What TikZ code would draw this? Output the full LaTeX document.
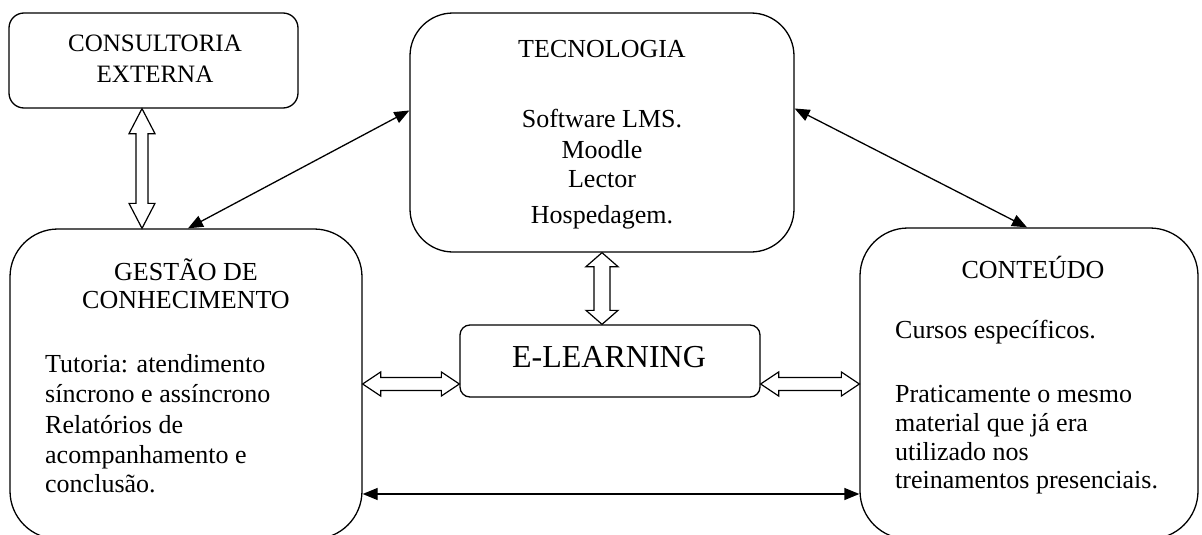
\documentclass[tikz,border=0pt]{standalone}
\usepackage{fontspec}
\setmainfont{Liberation Serif}
\usetikzlibrary{calc,arrows.meta}

% open double-headed block arrow between two points:
% #1,#2 end points, #3 head length, #4 half head width, #5 half shaft width
\newcommand\hollowlink[5]{%
  \draw[hollow] (#1)
    -- ($(#1)!#3!(#2)!#4!90:(#2)$) -- ($(#1)!#3!(#2)!#5!90:(#2)$)
    -- ($(#2)!#3!(#1)!#5!-90:(#1)$) -- ($(#2)!#3!(#1)!#4!-90:(#1)$)
    -- (#2)
    -- ($(#2)!#3!(#1)!#4!90:(#1)$) -- ($(#2)!#3!(#1)!#5!90:(#1)$)
    -- ($(#1)!#3!(#2)!#5!-90:(#2)$) -- ($(#1)!#3!(#2)!#4!-90:(#2)$)
    -- cycle;}

\tikzset{
  box/.style={draw, line width=1.3pt, fill=white, inner sep=0pt},
  txt/.style={font=\fontsize{26}{30}\selectfont, inner sep=0pt, anchor=base},
  ltxt/.style={txt, anchor=base west},
  hollow/.style={draw, line width=1.2pt, fill=white, line join=miter},
  link/.style={line width=1.3pt,
    {Triangle[length=15pt,width=12pt]}-{Triangle[length=15pt,width=12pt]}},
}

\begin{document}
\begin{tikzpicture}[x=1pt,y=-1pt]
\useasboundingbox (0,0) rectangle (1202,535);
\clip (0,0) rectangle (1202,535);

% boxes
\node[box, rounded corners=15pt, minimum width=289pt, minimum height=95pt]  (cons)   at (153.5,60.5) {};
\node[box, rounded corners=43pt, minimum width=384pt, minimum height=239pt] (tech)   at (602,132.5) {};
\node[box, rounded corners=48pt, minimum width=352pt, minimum height=310pt] (gest)   at (186,384) {};
\node[box, rounded corners=48pt, minimum width=338pt, minimum height=311pt] (cont)   at (1029,383.5) {};
\node[box, rounded corners=10pt, minimum width=300pt, minimum height=72pt]  (elearn) at (610,361) {};

% texts
\node[txt, font=\fontsize{25}{30}\selectfont] (consA) at (155,52) {CONSULTORIA};
\node[txt, font=\fontsize{25}{30}\selectfont] (consB) at (155,82) {EXTERNA};

\node[txt] (techA) at (602,58)  {TECNOLOGIA};
\node[txt] (techB) at (602,127) {Software LMS.};
\node[txt] (techC) at (602,158) {Moodle};
\node[txt] (techD) at (602,187) {Lector};
\node[txt] (techE) at (602,223) {Hospedagem.};

\node[txt] (gestA) at (186,280) {GESTÃO DE};
\node[txt] (gestB) at (186,308) {CONHECIMENTO};
\foreach \y/\t [count=\i] in {372/{Tutoria: atendimento},
    402/{síncrono e assíncrono}, 433/{Relatórios de},
    463/{acompanhamento e}, 492/{conclusão.}}
  \node[ltxt] (gline\i) at (45,\y) {\t};

\node[txt] (contA) at (1033,278) {CONTEÚDO};
\foreach \y/\t [count=\i] in {338/{Cursos específicos.},
    402/{Praticamente o mesmo}, 431/{material que já era},
    460/{utilizado nos}, 488/{treinamentos presenciais.}}
  \node[ltxt] (cline\i) at (895,\y) {\t};

\node[txt, font=\fontsize{32}{36}\selectfont] (elearnT) at (609,367) {E-LEARNING};

% block arrows
\coordinate (ce1) at ([xshift=-11.5pt]cons.south);
\coordinate (ce2) at (ce1 |- gest.north);
\hollowlink{ce1}{ce2}{25pt}{13pt}{6pt}

\coordinate (te1) at (tech.south);
\coordinate (te2) at (te1 |- elearn.north);
\hollowlink{te1}{te2}{14pt}{16pt}{8pt}

\coordinate (ge1) at (gest.east);
\coordinate (ge2) at (gest.east -| elearn.west);
\hollowlink{ge1}{ge2}{18pt}{12pt}{6.5pt}

\coordinate (ec1) at (gest.east -| elearn.east);
\coordinate (ec2) at (gest.east -| cont.west);
\hollowlink{ec1}{ec2}{18pt}{12pt}{6.5pt}

% line arrows
\coordinate (gc1) at ([yshift=-110pt]gest.east);
\draw[link] (gc1) -- (gc1 -| cont.west);

\coordinate (gt1) at ([xshift=2pt]gest.north);
\coordinate (gt2) at ([yshift=22pt]tech.west);
\draw[link] (gt1) -- (gt2);

\coordinate (tc1) at ([yshift=24pt]tech.east);
\coordinate (tc2) at ([xshift=-2pt]cont.north);
\draw[link] (tc1) -- (tc2);
\end{tikzpicture}
\end{document}
